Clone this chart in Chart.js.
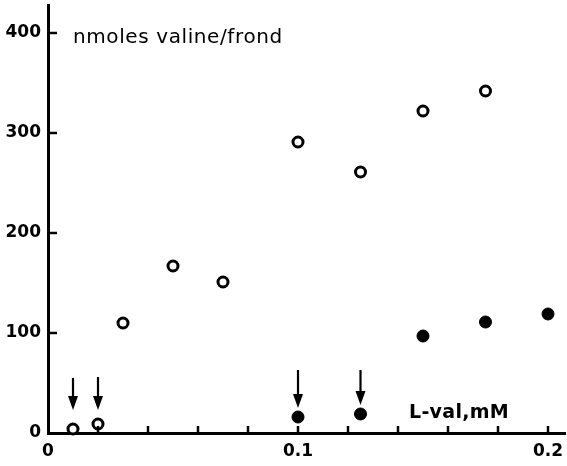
<!DOCTYPE html>
<html>
<head>
<meta charset="utf-8">
<script src="https://cdn.jsdelivr.net/npm/chart.js@4"></script>
<style>
  body { margin: 0; background: #fff; }
  #wrap { width: 567px; height: 466px; }
</style>
</head>
<body>
<div id="wrap"><canvas id="valChart" width="567" height="466"></canvas></div>
<script>
// L-valine concentration (mM) vs uptake (nmoles valine / frond)
const openX = [0.01, 0.02, 0.03, 0.05, 0.07, 0.1, 0.125, 0.15, 0.175];
const openY = [4, 9, 110, 167, 151, 291, 261, 322, 342];
const filledX = [0.1, 0.125, 0.15, 0.175, 0.2];
const filledY = [16, 19, 97, 111, 119];

// arrows marking points (x value, tip and tail in y units)
const arrowX = [0.01, 0.02, 0.1, 0.125];
const arrowTip = [23, 23, 25, 28];
const arrowTail = [55, 56, 63, 63];

const xTickValues = [0, 0.02, 0.04, 0.06, 0.08, 0.1, 0.12, 0.14, 0.16, 0.18, 0.2];
const xTickLabels = ['0', '', '', '', '', '0.1', '', '', '', '', '0.2'];
const yTickValues = [0, 100, 200, 300, 400];
const yTickLabels = ['0', '100', '200', '300', '400'];

const tickFont = { family: 'DejaVu Sans', size: 17, weight: 'bold' };

// Inward tick marks, arrows and the two text labels
const extras = {
  id: 'extras',
  afterDatasetsDraw(chart) {
    const ctx = chart.ctx;
    const xs = chart.scales.x;
    const ys = chart.scales.y;
    const area = chart.chartArea;
    ctx.save();
    ctx.strokeStyle = '#000';
    ctx.fillStyle = '#000';
    ctx.lineWidth = 2.5;
    // x ticks point up into the plot
    xTickValues.forEach(function(v) {
      if (v === 0) return;
      const px = xs.getPixelForValue(v);
      ctx.beginPath();
      ctx.moveTo(px, area.bottom);
      ctx.lineTo(px, area.bottom - 7);
      ctx.stroke();
    });
    // y ticks point right
    yTickValues.forEach(function(v) {
      if (v === 0) return;
      const py = ys.getPixelForValue(v);
      ctx.beginPath();
      ctx.moveTo(area.left, py);
      ctx.lineTo(area.left + 9, py);
      ctx.stroke();
    });
    // arrows
    ctx.lineWidth = 2.2;
    arrowX.forEach(function(v, i) {
      const px = xs.getPixelForValue(v);
      const tip = ys.getPixelForValue(arrowTip[i]);
      const tail = ys.getPixelForValue(arrowTail[i]);
      ctx.beginPath();
      ctx.moveTo(px, tail);
      ctx.lineTo(px, tip - 8);
      ctx.stroke();
      ctx.beginPath();
      ctx.moveTo(px, tip);
      ctx.lineTo(px - 5, tip - 14);
      ctx.lineTo(px + 5, tip - 14);
      ctx.closePath();
      ctx.fill();
    });
    // labels
    ctx.textBaseline = 'alphabetic';
    ctx.textAlign = 'left';
    ctx.letterSpacing = '0.6px';
    ctx.font = '20px "DejaVu Sans"';
    ctx.fillText('nmoles valine/frond', 73, 43);
    ctx.letterSpacing = '0.3px';
    ctx.font = 'bold 19px "DejaVu Sans"';
    ctx.fillText('L-val,mM', 409, 418);
    ctx.restore();
  }
};

const valChart = document.getElementById('valChart').getContext('2d');

new Chart(valChart, {
  type: 'scatter',
  data: {
    datasets: [{
      label: 'open',
      data: openX.map(function(x, i) { return { x: x, y: openY[i] }; }),
      pointStyle: 'circle',
      pointRadius: 5,
      pointBorderWidth: 3,
      pointBackgroundColor: '#fff',
      pointBorderColor: '#000',
      clip: false
    }, {
      label: 'filled',
      data: filledX.map(function(x, i) { return { x: x, y: filledY[i] }; }),
      pointStyle: 'circle',
      pointRadius: 6,
      pointBorderWidth: 1,
      pointBackgroundColor: '#000',
      pointBorderColor: '#000',
      clip: false
    }]
  },
  options: {
    responsive: false,
    animation: false,
    events: [],
    layout: { autoPadding: false, padding: { top: 5, right: 2, left: 0, bottom: 0 } },
    plugins: {
      legend: { display: false },
      tooltip: { enabled: false }
    },
    scales: {
      x: {
        type: 'linear',
        min: 0,
        max: 0.2068,
        afterBuildTicks: function(s) { s.ticks = xTickValues.map(function(v) { return { value: v }; }); },
        afterFit: function(s) { s.height = 33; s.paddingLeft = 0; s.paddingRight = 0; },
        grid: { drawOnChartArea: false, drawTicks: false },
        border: { display: true, color: '#000', width: 3 },
        ticks: {
          autoSkip: false,
          maxRotation: 0,
          padding: 8,
          color: '#000',
          font: tickFont,
          callback: function(v, i) { return xTickLabels[i]; }
        }
      },
      y: {
        min: 0,
        max: 428,
        afterBuildTicks: function(s) { s.ticks = yTickValues.map(function(v) { return { value: v }; }); },
        afterFit: function(s) { s.width = 48; s.paddingTop = 0; s.paddingBottom = 0; },
        grid: { drawOnChartArea: false, drawTicks: false },
        border: { display: true, color: '#000', width: 3 },
        ticks: {
          autoSkip: false,
          padding: 7,
          color: '#000',
          font: tickFont,
          callback: function(v, i) { return yTickLabels[i]; }
        }
      }
    }
  },
  plugins: [extras]
});
</script>
</body>
</html>
